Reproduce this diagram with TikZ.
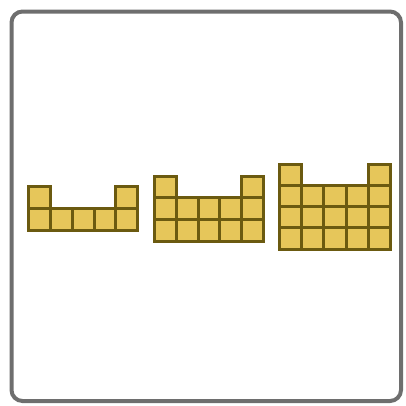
\documentclass[tikz,border=0pt]{standalone}
\begin{document}
\begin{tikzpicture}[x=1pt,y=-1pt,
  cell/.style={fill=cellfill,draw=celledge,line width=3pt,line join=miter},
  frame/.style={draw=framegray,line width=4pt,rounded corners=11pt}]
\definecolor{cellfill}{HTML}{E6C65A}
\definecolor{celledge}{HTML}{6B5A10}
\definecolor{framegray}{HTML}{6E6E6E}
\useasboundingbox (0,0) rectangle (406,405);
\draw[frame] (11.5,11.5) rectangle (401,401);
% figure 1
\begin{scope}[shift={(28.5,186.5)},x=21.86pt,y=-22.1pt]
  \foreach \c/\r in {0/0,4/0,0/1,1/1,2/1,3/1,4/1}
    \draw[cell] (\c,\r) rectangle ++(1,1);
\end{scope}
% figure 2
\begin{scope}[shift={(154.5,176)},x=21.8pt,y=-21.67pt]
  \foreach \c/\r in {0/0,4/0,0/1,1/1,2/1,3/1,4/1,0/2,1/2,2/2,3/2,4/2}
    \draw[cell] (\c,\r) rectangle ++(1,1);
\end{scope}
% figure 3
\begin{scope}[shift={(279.5,164)},x=22.24pt,y=-21.25pt]
  \foreach \c/\r in {0/0,4/0,0/1,1/1,2/1,3/1,4/1,0/2,1/2,2/2,3/2,4/2,0/3,1/3,2/3,3/3,4/3}
    \draw[cell] (\c,\r) rectangle ++(1,1);
\end{scope}
\end{tikzpicture}
\end{document}
